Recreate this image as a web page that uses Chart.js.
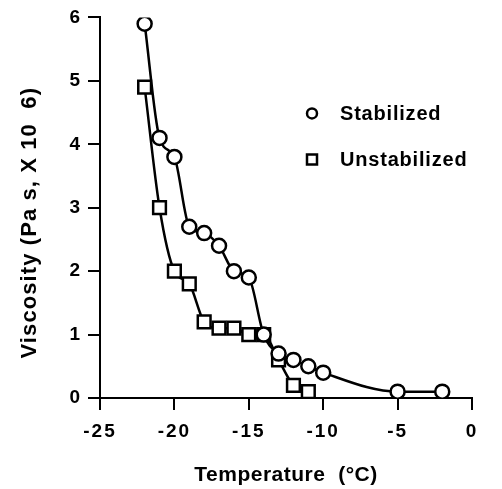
<!DOCTYPE html>
<html>
<head>
<meta charset="utf-8">
<script src="https://cdn.jsdelivr.net/npm/chart.js@4/dist/chart.umd.min.js"></script>
<style>
  html, body { margin: 0; padding: 0; background: #fff; }
  #wrap { width: 502px; height: 489px; }
</style>
</head>
<body>
<div id="wrap"><canvas id="viscChart" width="502" height="489"></canvas></div>
<script>
var stabTemps = [-22, -21, -20, -19, -18, -17, -16, -15, -14, -13, -12, -11, -10, -5, -2];
var stabilized = [5.9, 4.1, 3.8, 2.7, 2.6, 2.4, 2.0, 1.9, 1.0, 0.7, 0.6, 0.5, 0.4, 0.1, 0.1];

var unstabTemps = [-22, -21, -20, -19, -18, -17, -16, -15, -14, -13, -12, -11];
var unstabilized = [4.9, 3.0, 2.0, 1.8, 1.2, 1.1, 1.1, 1.0, 1.0, 0.6, 0.2, 0.1];

var seriesNames = ['Stabilized', 'Unstabilized'];
var xTitle = 'Temperature  (°C)';
var yTitle = 'Viscosity (Pa s, X 10  6)';

function toPoints(xs, ys) {
    return xs.map(function (x, i) { return { x: x, y: ys[i] }; });
}

var fontFamily = '"Liberation Sans", Arial, Helvetica, sans-serif';

// tick labels are printed with a bit of spacing
var spacing = {
    id: 'spacing',
    beforeLayout: function (chart) { chart.ctx.letterSpacing = '2px'; },
    beforeDraw: function (chart) { chart.ctx.letterSpacing = '2px'; }
};

// axis titles, the y one sits a little below the centre of the axis
var axisTitles = {
    id: 'axisTitles',
    afterDraw: function (chart) {
        var ctx = chart.ctx;
        var area = chart.chartArea;
        ctx.save();
        ctx.fillStyle = '#000';
        ctx.textAlign = 'center';
        ctx.textBaseline = 'middle';

        ctx.letterSpacing = '0.5px';
        ctx.font = 'bold 21px ' + fontFamily;
        ctx.fillText(xTitle, (area.left + area.right) / 2, area.bottom + 77);

        ctx.letterSpacing = '1.1px';
        ctx.font = 'bold 22px ' + fontFamily;
        ctx.translate(30, (area.top + area.bottom) / 2 + 15);
        ctx.rotate(-Math.PI / 2);
        ctx.fillText(yTitle, 0, 0);
        ctx.restore();
    }
};

// legend sits inside the plot, symbol then text
var insideLegend = {
    id: 'insideLegend',
    afterDraw: function (chart) {
        var ctx = chart.ctx;
        var area = chart.chartArea;
        var x0 = area.left + 212;
        var rows = [area.top + 96, area.top + 142];
        ctx.save();
        ctx.letterSpacing = '0.8px';
        chart.data.datasets.forEach(function (ds, i) {
            var y = rows[i];
            ctx.lineWidth = 2.5;
            ctx.strokeStyle = '#000';
            ctx.fillStyle = '#fff';
            ctx.beginPath();
            if (ds.pointStyle === 'rect') {
                ctx.rect(x0 - 5, y - 5, 10, 10);
            } else {
                ctx.arc(x0, y, 5, 0, Math.PI * 2);
            }
            ctx.fill();
            ctx.stroke();
            ctx.fillStyle = '#000';
            ctx.font = 'bold 20px ' + fontFamily;
            ctx.textBaseline = 'middle';
            ctx.textAlign = 'left';
            ctx.fillText(ds.label, x0 + 28, y + 1);
        });
        ctx.restore();
    }
};

var config = {
    type: 'line',
    data: {
        datasets: [{
            label: seriesNames[0],
            data: toPoints(stabTemps, stabilized),
            borderColor: '#000',
            backgroundColor: '#fff',
            borderWidth: 2.5,
            pointStyle: 'circle',
            pointRadius: 7,
            pointBorderWidth: 2.5,
            pointBackgroundColor: '#fff',
            pointBorderColor: '#000',
            cubicInterpolationMode: 'monotone'
        }, {
            label: seriesNames[1],
            data: toPoints(unstabTemps, unstabilized),
            borderColor: '#000',
            backgroundColor: '#fff',
            borderWidth: 2.5,
            pointStyle: 'rect',
            pointRadius: 9,
            pointBorderWidth: 2.5,
            pointBackgroundColor: '#fff',
            pointBorderColor: '#000',
            cubicInterpolationMode: 'monotone'
        }]
    },
    options: {
        responsive: false,
        animation: false,
        devicePixelRatio: 1,
        layout: { padding: { top: 16, right: 30, left: 0, bottom: 0 } },
        plugins: {
            legend: { display: false },
            tooltip: { enabled: false }
        },
        scales: {
            x: {
                type: 'linear',
                min: -25,
                max: 0,
                ticks: {
                    stepSize: 5,
                    color: '#000',
                    padding: 10,
                    maxRotation: 0,
                    font: { family: fontFamily, size: 19, weight: 'bold' }
                },
                grid: {
                    drawOnChartArea: false,
                    drawTicks: true,
                    tickLength: 12,
                    color: '#000',
                    lineWidth: 2
                },
                border: { display: true, color: '#000', width: 2 },
                afterFit: function (scale) { scale.height = 91; }
            },
            y: {
                min: 0,
                max: 6,
                ticks: {
                    stepSize: 1,
                    color: '#000',
                    padding: 6,
                    font: { family: fontFamily, size: 19, weight: 'bold' }
                },
                grid: {
                    drawOnChartArea: false,
                    drawTicks: true,
                    tickLength: 12,
                    color: '#000',
                    lineWidth: 2
                },
                border: { display: true, color: '#000', width: 2 },
                afterFit: function (scale) { scale.width = 100; }
            }
        }
    },
    plugins: [spacing, axisTitles, insideLegend]
};

var viscChart = new Chart(document.getElementById('viscChart'), config);
</script>
</body>
</html>
